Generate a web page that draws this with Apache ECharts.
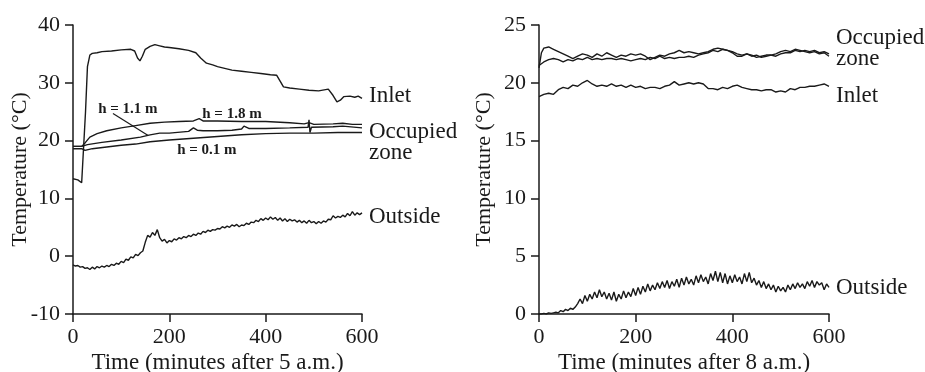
<!DOCTYPE html>
<html>
<head>
<meta charset="utf-8">
<script src="https://cdn.jsdelivr.net/npm/echarts@6/dist/echarts.min.js"></script>
<style>
  html, body { margin: 0; padding: 0; background: #fff; }
  #chart { width: 925px; height: 372px; }
</style>
</head>
<body>
<div id="chart"></div>
<script>
// ---- left panel (minutes after 5 a.m.) : [time, temperature] ----
const leftInlet = [[0,13.4],[10,13.2],[18,12.7],[22,13.0],[26,25],[30,32.8],[35,34.8],[40,35.1],[50,35.2],[60,35.4],[80,35.5],[100,35.7],[120,35.8],[128,35.5],[134,34.3],[139,33.8],[144,34.6],[150,35.8],[160,36.3],[170,36.6],[180,36.4],[190,36.2],[200,36.1],[220,35.9],[240,35.6],[255,35.2],[265,34.3],[277,33.4],[290,33.1],[300,32.8],[315,32.5],[330,32.2],[350,32.0],[370,31.8],[390,31.6],[410,31.4],[423,31.3],[430,30.3],[437,29.3],[450,29.1],[470,28.9],[490,28.7],[510,28.6],[530,28.9],[540,27.8],[548,26.7],[555,27.0],[562,27.6],[575,27.7],[585,27.5],[592,27.7],[600,27.3]];
const leftH18 = [[0,19.0],[18,19.0],[25,19.6],[35,20.6],[50,21.2],[70,21.7],[100,22.2],[130,22.6],[160,23.0],[190,23.2],[220,23.3],[250,23.4],[262,23.8],[270,23.4],[300,23.4],[350,23.3],[400,23.3],[450,23.1],[480,22.9],[490,23.1],[500,22.8],[540,22.9],[560,23.0],[580,22.8],[600,22.8]];
const leftH11 = [[0,19.0],[18,19.0],[30,19.3],[60,19.7],[100,20.1],[140,20.6],[160,21.0],[180,21.3],[200,21.3],[240,21.6],[250,22.2],[258,21.8],[270,21.7],[300,21.7],[330,21.8],[350,22.0],[355,22.5],[365,22.1],[400,22.1],[450,22.2],[488,22.3],[490,23.6],[492,21.4],[495,22.3],[540,22.4],[560,22.5],[600,22.2]];
const leftH01 = [[0,18.6],[18,18.6],[25,18.3],[40,18.6],[70,18.9],[100,19.2],[130,19.4],[160,19.8],[200,20.1],[250,20.4],[300,20.7],[350,21.0],[400,21.2],[450,21.3],[500,21.3],[550,21.4],[600,21.4]];
// outside, every 5 minutes from 0 to 600
const leftOutside = [-1.5,-1.7,-1.6,-1.9,-1.8,-2.1,-2.0,-2.3,-1.9,-2.2,-1.8,-2.0,-1.7,-1.9,-1.6,-1.8,-1.4,-1.6,-1.2,-1.4,-0.9,-1.1,-0.5,-0.7,-0.1,-0.3,0.3,0.1,0.6,0.9,2.4,3.6,3.3,4.1,3.6,4.6,3.2,2.6,2.9,2.3,2.7,2.5,3.0,2.8,3.2,3.0,3.4,3.2,3.6,3.4,3.8,3.6,4.0,3.8,4.3,4.1,4.5,4.3,4.6,4.5,4.8,4.7,5.1,4.9,5.2,5.0,5.4,5.2,5.5,5.1,5.4,5.3,5.7,5.5,5.9,5.8,6.2,6.0,6.5,6.2,6.6,6.3,6.8,6.4,6.7,6.2,6.6,6.1,6.5,6.0,6.4,6.1,6.3,5.9,6.2,5.8,6.1,5.7,6.2,5.8,6.0,5.6,6.0,5.7,6.1,5.9,6.4,6.3,7.0,6.6,6.9,6.7,7.1,6.8,7.4,7.0,7.7,7.1,7.5,7.2,7.5];

// ---- right panel (minutes after 8 a.m.) ----
const rightInlet = [18.8,19.0,19.1,19.0,19.4,19.6,19.5,19.8,19.7,20.0,20.2,19.9,19.7,19.8,19.7,19.9,19.7,19.8,19.6,19.8,19.6,19.7,19.5,19.6,19.6,19.5,19.7,19.8,20.1,19.8,19.9,20.0,19.9,20.0,19.9,19.5,19.5,19.4,19.6,19.5,19.7,19.8,19.6,19.5,19.4,19.4,19.3,19.4,19.4,19.2,19.3,19.2,19.5,19.4,19.6,19.6,19.7,19.7,19.8,19.9,19.7]; // every 10 min
const rightZoneA = [[0,21.3],[5,22.6],[10,23.0],[20,23.1],[30,22.9],[40,22.7],[50,22.5],[60,22.3],[70,22.1],[80,22.3],[90,22.5],[100,22.4],[110,22.2],[120,22.5],[130,22.3],[140,22.6],[150,22.4],[160,22.2],[170,22.4],[180,22.3],[190,22.5],[200,22.4],[210,22.5],[220,22.3],[230,22.0],[240,22.2],[250,22.4],[260,22.3],[270,22.5],[280,22.6],[290,22.8],[300,22.6],[310,22.7],[320,22.6],[330,22.5],[340,22.6],[350,22.7],[360,22.9],[370,23.0],[380,22.9],[390,22.8],[400,22.6],[410,22.3],[420,22.3],[430,22.5],[440,22.4],[450,22.2],[460,22.3],[470,22.4],[480,22.4],[490,22.3],[500,22.5],[510,22.6],[520,22.6],[530,22.8],[540,22.7],[550,22.8],[560,22.7],[570,22.8],[580,22.6],[590,22.7],[600,22.5]];
const rightZoneB = [21.5,21.8,22.0,22.1,22.0,21.8,22.0,21.9,22.1,22.0,22.2,22.0,22.1,22.0,22.1,22.1,22.0,22.1,22.0,21.9,22.0,22.1,22.0,22.2,22.1,22.3,22.1,22.2,22.1,22.2,22.2,22.3,22.2,22.4,22.5,22.6,22.8,22.7,22.9,22.8,22.7,22.5,22.4,22.5,22.3,22.4,22.2,22.3,22.4,22.5,22.7,22.8,22.7,22.9,22.8,22.7,22.6,22.7,22.5,22.6,22.3]; // every 10 min
const rightOutside = [0.0,0.0,0.05,0.0,0.1,0.05,0.1,0.15,0.1,0.3,0.2,0.4,0.3,0.5,0.4,0.6,0.9,1.3,0.9,1.6,1.1,1.7,1.3,1.9,1.4,2.1,1.5,1.9,1.3,1.8,1.2,1.9,1.1,1.7,1.3,2.0,1.4,1.9,1.5,2.2,1.6,2.3,1.7,2.4,1.9,2.6,2.0,2.5,2.1,2.7,2.2,2.8,2.3,2.9,2.2,2.8,2.4,3.0,2.3,3.1,2.5,3.2,2.6,3.0,2.5,3.3,2.7,3.4,2.8,3.2,2.6,3.5,2.9,3.7,2.8,3.6,2.7,3.5,2.6,3.3,2.7,3.4,2.8,3.2,2.6,3.5,2.8,3.6,2.7,3.1,2.5,2.9,2.3,2.8,2.2,2.6,2.1,2.5,1.9,2.4,2.0,2.3,1.9,2.5,2.1,2.6,2.2,2.7,2.3,2.6,2.2,2.8,2.4,2.9,2.3,2.8,2.5,2.7,2.1,2.6,2.3]; // every 5 min

const xTicks = { min: 0, max: 600, interval: 200 };
const leftY = { min: -10, max: 40, interval: 10 };
const rightY = { min: 0, max: 25, interval: 5 };

const withTime = (vals, step) => vals.map((v, i) => [i * step, v]);

const FONT = "'Liberation Serif', 'DejaVu Serif', serif";
const INK = "#1a1a1a";

const chart = echarts.init(document.getElementById("chart"));

const xAxisBase = (gridIndex, name) => ({
  type: "value",
  gridIndex,
  ...xTicks,
  name,
  nameLocation: "middle",
  nameGap: 37,
  nameMoveOverlap: false,
  nameTextStyle: { fontFamily: FONT, fontSize: 23, color: INK },
  axisLine: { onZero: false, lineStyle: { color: INK, width: 1.5 } },
  axisTick: { length: 8, lineStyle: { color: INK, width: 1.5 } },
  axisLabel: { fontFamily: FONT, fontSize: 22, color: INK, margin: 12 },
  splitLine: { show: false },
});

const yAxisBase = (gridIndex, range, gap) => ({
  type: "value",
  gridIndex,
  ...range,
  name: "Temperature (°C)",
  nameLocation: "middle",
  nameGap: gap,
  nameMoveOverlap: false,
  nameTextStyle: { fontFamily: FONT, fontSize: 22, color: INK },
  axisLine: { show: true, onZero: false, lineStyle: { color: INK, width: 1.5 } },
  axisTick: { show: true, length: 8, lineStyle: { color: INK, width: 1.5 } },
  axisLabel: { fontFamily: FONT, fontSize: 22, color: INK, margin: 13 },
  splitLine: { show: false },
});

const endLabel = (text, offset) => ({
  show: true,
  formatter: text,
  distance: 7,
  offset: offset || [0, 0],
  fontFamily: FONT,
  fontSize: 23,
  lineHeight: 21,
  color: INK,
  align: "left",
});

const line = (xi, data, label) => ({
  type: "line",
  xAxisIndex: xi,
  yAxisIndex: xi,
  data,
  showSymbol: false,
  symbol: "none",
  lineStyle: { color: INK, width: 1.4 },
  silent: true,
  endLabel: label || { show: false },
});

const annot = (text, coord) => ({
  coord,
  symbol: "circle",
  symbolSize: 1,
  itemStyle: { color: "rgba(0,0,0,0)" },
  label: {
    show: true,
    position: "inside",
    formatter: text,
    fontFamily: FONT,
    fontSize: 15,
    fontWeight: "bold",
    color: INK,
  },
});

const h11 = line(0, leftH11, endLabel("Occupied\nzone", [0, 15]));
h11.markPoint = {
  silent: true,
  data: [
    annot("h = 1.1 m", [114, 25.4]),
    annot("h = 1.8 m", [330, 24.6]),
    annot("h = 0.1 m", [278, 18.3]),
  ],
};
h11.markLine = {
  silent: true,
  symbol: "none",
  label: { show: false },
  lineStyle: { color: INK, width: 1.2, type: "solid" },
  data: [[{ coord: [83, 24.7] }, { coord: [156, 20.9] }]],
};

chart.setOption({
  animation: false,
  backgroundColor: "#fff",
  grid: [
    { left: 73, top: 25, width: 289, height: 289, outerBoundsMode: "none", containLabel: false },
    { left: 539, top: 25, width: 290, height: 289, outerBoundsMode: "none", containLabel: false },
  ],
  xAxis: [
    xAxisBase(0, "Time (minutes after 5 a.m.)"),
    xAxisBase(1, "Time (minutes after 8 a.m.)"),
  ],
  yAxis: [yAxisBase(0, leftY, 42), yAxisBase(1, rightY, 44)],
  series: [
    line(0, leftInlet, endLabel("Inlet", [0, -2])),
    line(0, leftH18),
    h11,
    line(0, leftH01),
    line(0, withTime(leftOutside, 5), endLabel("Outside", [0, 4])),
    line(1, rightZoneA),
    line(1, withTime(rightZoneB, 10), endLabel("Occupied\nzone", [0, -8])),
    line(1, withTime(rightInlet, 10), endLabel("Inlet", [0, 10])),
    line(1, withTime(rightOutside, 5), endLabel("Outside", [0, 1])),
  ],
});
</script>
</body>
</html>
